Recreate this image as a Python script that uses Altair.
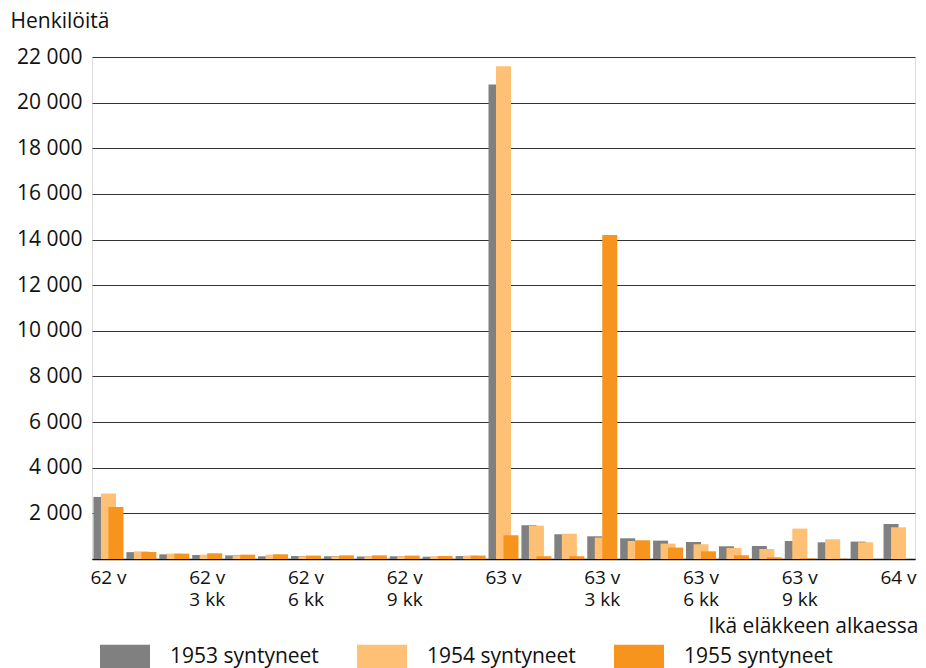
import altair as alt
import pandas as pd

categories = [
    "62 v", "62 v|1 kk", "62 v|2 kk", "62 v|3 kk", "62 v|4 kk", "62 v|5 kk",
    "62 v|6 kk", "62 v|7 kk", "62 v|8 kk", "62 v|9 kk", "62 v|10 kk", "62 v|11 kk",
    "63 v", "63 v|1 kk", "63 v|2 kk", "63 v|3 kk", "63 v|4 kk", "63 v|5 kk",
    "63 v|6 kk", "63 v|7 kk", "63 v|8 kk", "63 v|9 kk", "63 v|10 kk", "63 v|11 kk",
    "64 v",
]
shown_labels = ["62 v", "62 v|3 kk", "62 v|6 kk", "62 v|9 kk",
                "63 v", "63 v|3 kk", "63 v|6 kk", "63 v|9 kk", "64 v"]

series_names = ["1953 syntyneet", "1954 syntyneet", "1955 syntyneet"]
series_colors = ["#808080", "#FDC074", "#F7941D"]

v1953 = [2720, 300, 205, 176, 160, 120, 130, 120, 110, 120, 100, 130,
         20800, 1480, 1085, 995, 908, 805, 745, 557, 570, 790, 732, 762, 1535]
v1954 = [2870, 335, 235, 190, 150, 190, 120, 110, 110, 120, 110, 150,
         21600, 1460, 1110, 940, 790, 675, 645, 482, 438, 1333, 864, 732, 1390]
v1955 = [2280, 305, 235, 250, 190, 205, 150, 160, 160, 150, 130, 150,
         1040, 120, 120, 14200, 820, 500, 338, 162, 75, 30, 10, 0, 0]

y_ticks = [0, 2000, 4000, 6000, 8000, 10000, 12000, 14000, 16000, 18000, 20000, 22000]

rows = []
for name, vals in zip(series_names, [v1953, v1954, v1955]):
    for c, v in zip(categories, vals):
        rows.append({"cat": c, "series": name, "value": v})
df = pd.DataFrame(rows)

FONT = "Open Sans"
shown_js = "[" + ",".join("'" + s + "'" for s in shown_labels) + "]"

x_enc = alt.X(
    "cat:N",
    sort=categories,
    scale=alt.Scale(paddingInner=0, paddingOuter=0),
    axis=alt.Axis(
        title="Ikä eläkkeen alkaessa",
        labelExpr=f"indexof({shown_js}, datum.value) >= 0 ? split(datum.value, '|') : ''",
        labelAngle=0,
        labelFont=FONT,
        labelFontSize=19,
        labelColor="#111",
        labelPadding=9,
        labelLineHeight=22,
        labelBaseline="top",
        ticks=False,
        domainColor="#111",
        domainWidth=1.5,
        titleFont=FONT,
        titleFontSize=21,
        titleFontWeight="normal",
        titleColor="#111",
        titleAnchor="end",
        titleAlign="right",
        titleBaseline="alphabetic",
        titleX=826,
        titleY=73,
        grid=False,
    ),
)

y_enc = alt.Y(
    "value:Q",
    scale=alt.Scale(domain=[0, 22000], nice=False),
    axis=alt.Axis(
        title="Henkilöitä",
        values=y_ticks,
        labelExpr="datum.value == 0 ? '' : replace(format(datum.value, ','), /,/g, ' ')",
        labelFont=FONT,
        labelFontSize=21,
        labelColor="#111",
        labelPadding=10,
        ticks=False,
        domain=False,
        grid=True,
        gridColor="#333",
        gridWidth=1,
        titleFont=FONT,
        titleFontSize=21,
        titleFontWeight="normal",
        titleColor="#111",
        titleAngle=0,
        titleAlign="left",
        titleBaseline="alphabetic",
        titleX=-82,
        titleY=-30,
    ),
)

color_enc = alt.Color(
    "series:N",
    scale=alt.Scale(domain=series_names, range=series_colors),
    legend=alt.Legend(
        title=None,
        orient="none",
        legendX=8,
        legendY=575,
        direction="horizontal",
        symbolType="M-1,-0.5H1V0.5H-1Z",
        symbolSize=2500,
        symbolStrokeWidth=0,
        symbolOpacity=1,
        labelFont=FONT,
        labelFontSize=21,
        labelColor="#111",
        labelOffset=20,
        columnPadding=38,
        labelLimit=300,
    ),
)

offsets = [-7.5, 0, 7.5]
layers = []
for name, off in zip(series_names, offsets):
    layers.append(
        alt.Chart(df)
        .transform_filter(alt.datum.series == name)
        .mark_bar(width=15, xOffset=off)
        .encode(x=x_enc, y=y_enc, color=color_enc)
    )

chart = (
    alt.layer(*layers)
    .properties(width=823, height=502, padding={"left": 2, "top": 2, "right": 0, "bottom": 0})
    .configure_view(stroke="#333", strokeWidth=1)
    .configure(background="white")
)

chart.save("out.html", embed_options={"renderer": "svg", "actions": False})
